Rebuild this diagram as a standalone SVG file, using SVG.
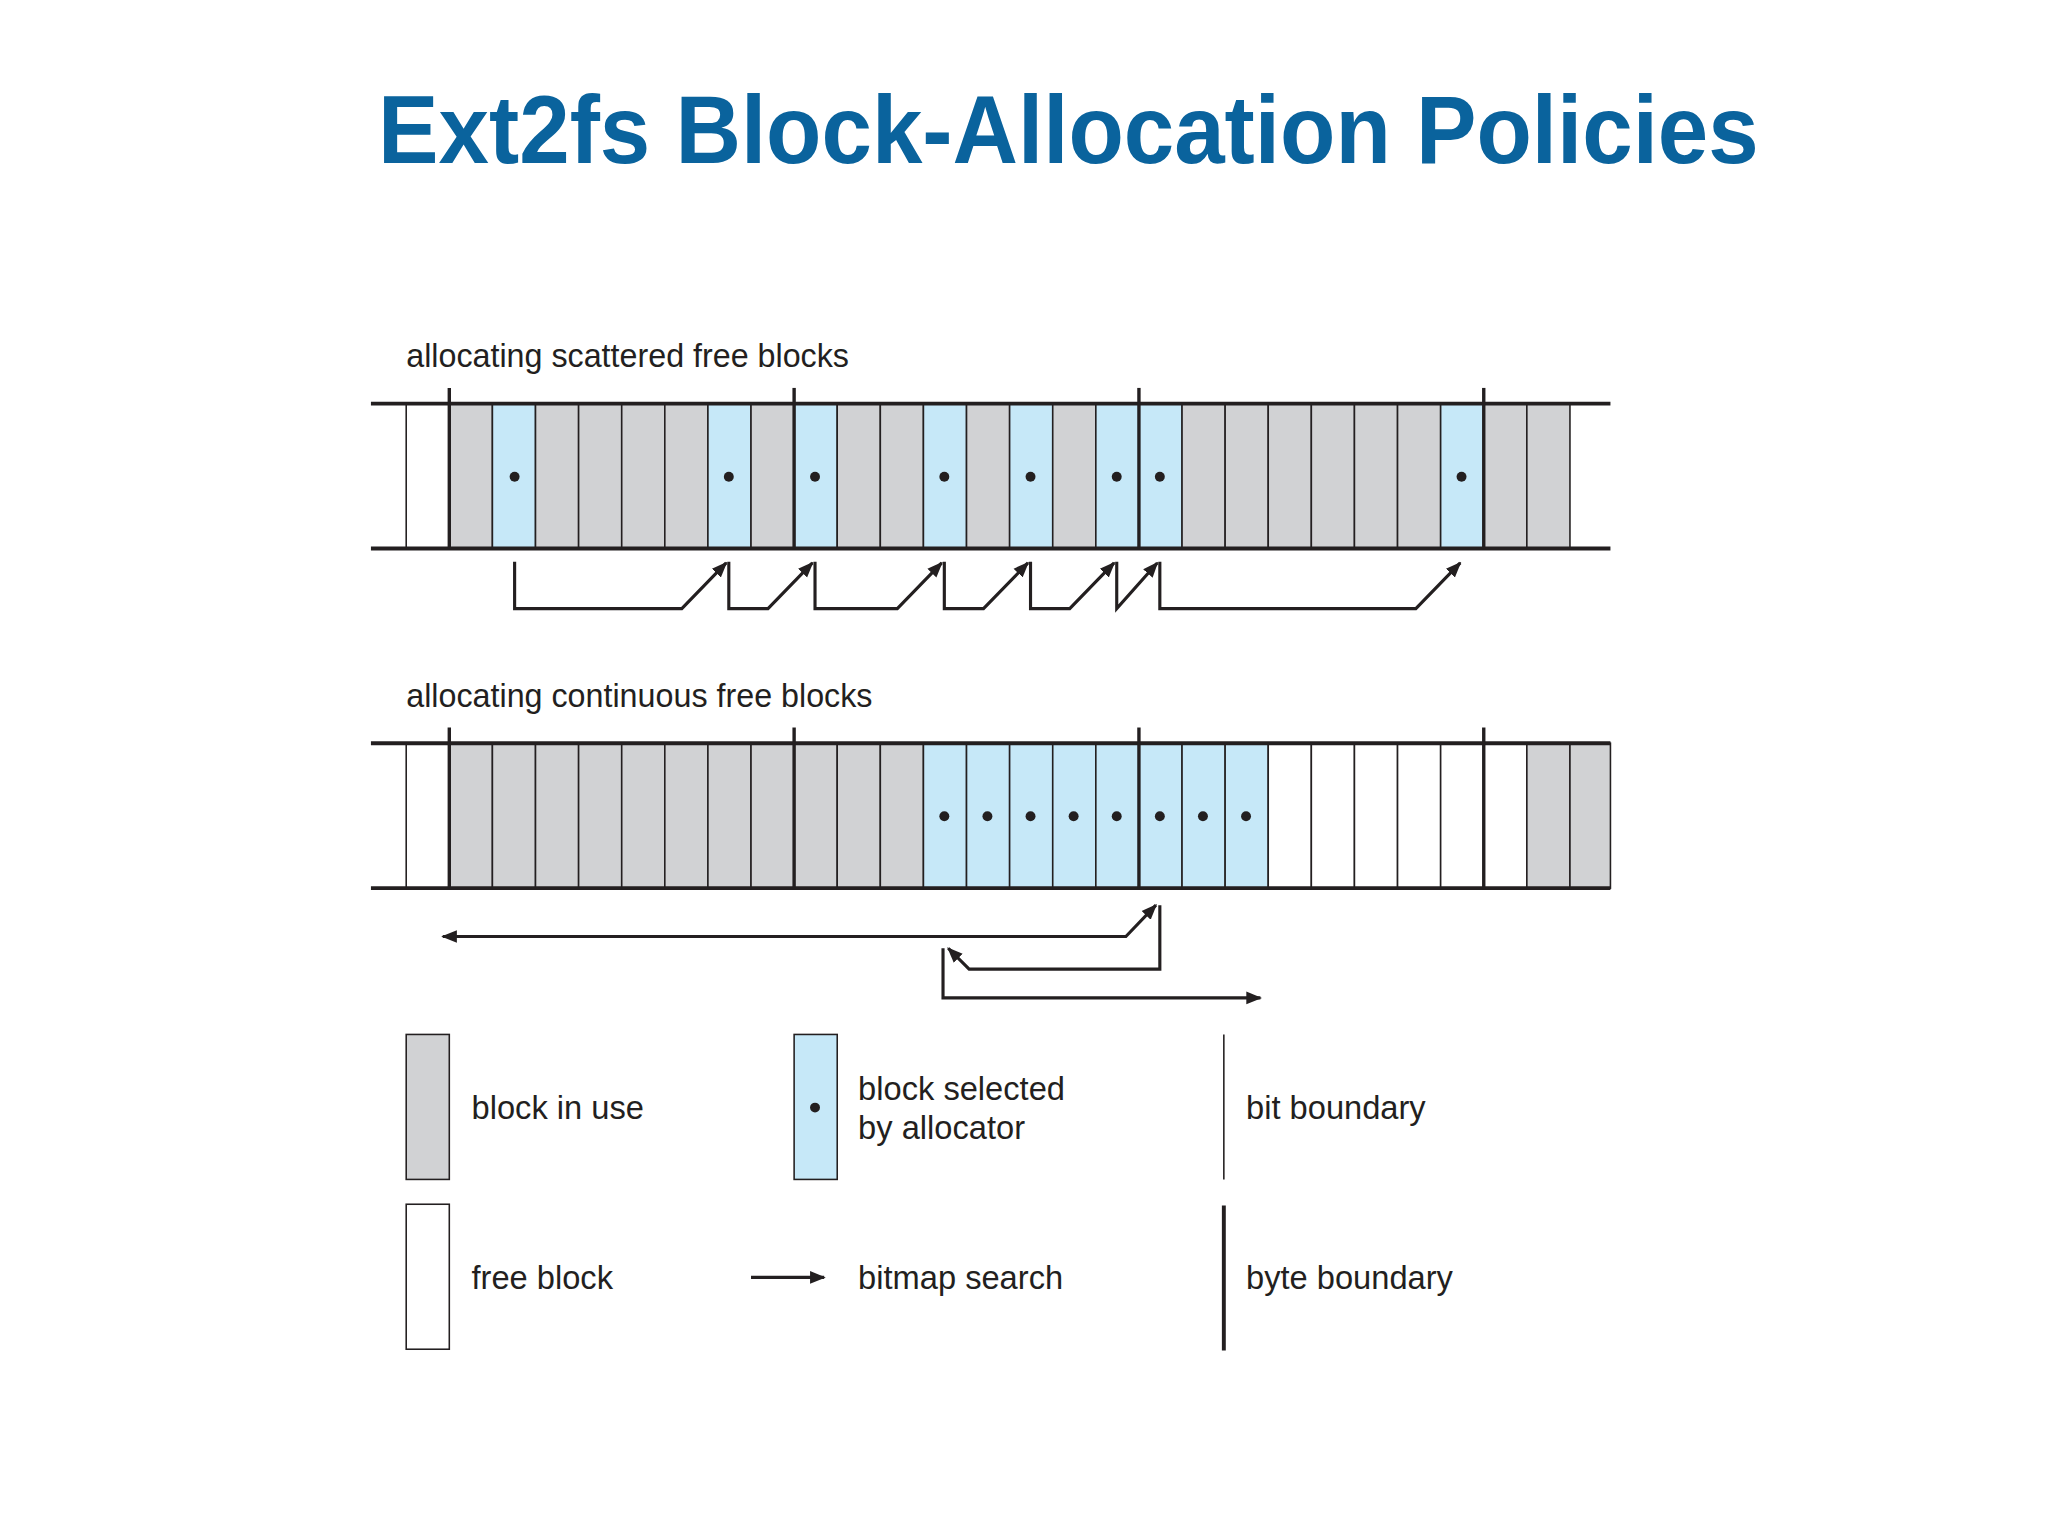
<svg xmlns="http://www.w3.org/2000/svg" width="2048" height="1536" viewBox="0 0 2048 1536">
<style>
.t{font-family:"Liberation Sans",Arial,sans-serif;font-size:25px;fill:#231f20}
.g{fill:#d1d2d4;stroke:#231f20;stroke-width:1.2}
.b{fill:#c6e8f8;stroke:#231f20;stroke-width:1.2}
.w{fill:#fff;stroke:#231f20;stroke-width:1.2}
.rail{stroke:#231f20;stroke-width:3}
.byte{stroke:#231f20;stroke-width:2.6}
.c{fill:none;stroke:#231f20;stroke-width:2.4}
</style>
<defs>
<marker id="ah" viewBox="0 0 10 10" refX="9" refY="5" markerWidth="5" markerHeight="5" orient="auto-start-reverse"><path d="M0,1 L10,5 L0,9 Z" fill="#231f20"/></marker>
</defs>
<rect width="2048" height="1536" fill="#fff"/>
<g transform="scale(1.30612)">
<text id="title" x="818" y="125" text-anchor="middle" textLength="1057" lengthAdjust="spacingAndGlyphs" style="font-family:'Liberation Sans',Arial,sans-serif;font-weight:bold;font-size:74px;fill:#0a639d">Ext2fs Block-Allocation Policies</text>

<text class="t" x="311" y="281" textLength="339" lengthAdjust="spacingAndGlyphs">allocating scattered free blocks</text>
<g id="strip1">
<rect class="w" x="311" y="309" width="33" height="111"/>
<rect class="g" x="344" y="309" width="33" height="111"/><rect class="b" x="377" y="309" width="33" height="111"/>
<rect class="g" x="410" y="309" width="33" height="111"/><rect class="g" x="443" y="309" width="33" height="111"/>
<rect class="g" x="476" y="309" width="33" height="111"/><rect class="g" x="509" y="309" width="33" height="111"/>
<rect class="b" x="542" y="309" width="33" height="111"/><rect class="g" x="575" y="309" width="33" height="111"/>
<rect class="b" x="608" y="309" width="33" height="111"/><rect class="g" x="641" y="309" width="33" height="111"/>
<rect class="g" x="674" y="309" width="33" height="111"/><rect class="b" x="707" y="309" width="33" height="111"/>
<rect class="g" x="740" y="309" width="33" height="111"/><rect class="b" x="773" y="309" width="33" height="111"/>
<rect class="g" x="806" y="309" width="33" height="111"/><rect class="b" x="839" y="309" width="33" height="111"/>
<rect class="b" x="872" y="309" width="33" height="111"/><rect class="g" x="905" y="309" width="33" height="111"/>
<rect class="g" x="938" y="309" width="33" height="111"/><rect class="g" x="971" y="309" width="33" height="111"/>
<rect class="g" x="1004" y="309" width="33" height="111"/><rect class="g" x="1037" y="309" width="33" height="111"/>
<rect class="g" x="1070" y="309" width="33" height="111"/><rect class="b" x="1103" y="309" width="33" height="111"/>
<rect class="g" x="1136" y="309" width="33" height="111"/><rect class="g" x="1169" y="309" width="33" height="111"/>
<g fill="#231f20"><circle cx="394" cy="365" r="3.8"/><circle cx="558" cy="365" r="3.8"/><circle cx="624" cy="365" r="3.8"/><circle cx="723" cy="365" r="3.8"/><circle cx="789" cy="365" r="3.8"/><circle cx="855" cy="365" r="3.8"/><circle cx="888" cy="365" r="3.8"/><circle cx="1119" cy="365" r="3.8"/></g>
<line class="rail" x1="284" y1="309" x2="1233" y2="309"/><line class="rail" x1="284" y1="420" x2="1233" y2="420"/>
<g class="byte"><line x1="344" y1="297" x2="344" y2="420"/><line x1="608" y1="297" x2="608" y2="420"/><line x1="872" y1="297" x2="872" y2="420"/><line x1="1136" y1="297" x2="1136" y2="420"/></g>
</g>
<g id="connectors1" class="c">
<path d="M394,430 V466 H522 L556,431" marker-end="url(#ah)"/>
<path d="M558,430 V466 H588 L622,431" marker-end="url(#ah)"/>
<path d="M624,430 V466 H687 L721,431" marker-end="url(#ah)"/>
<path d="M723,430 V466 H753 L787,431" marker-end="url(#ah)"/>
<path d="M789,430 V466 H819 L853,431" marker-end="url(#ah)"/>
<path d="M855,430 V466 L886,431" marker-end="url(#ah)"/>
<path d="M888,430 V466 H1084 L1118,431" marker-end="url(#ah)"/>
</g>

<text class="t" x="311" y="541" textLength="357" lengthAdjust="spacingAndGlyphs">allocating continuous free blocks</text>
<g id="strip2">
<rect class="w" x="311" y="569" width="33" height="111"/>
<rect class="g" x="344" y="569" width="33" height="111"/><rect class="g" x="377" y="569" width="33" height="111"/>
<rect class="g" x="410" y="569" width="33" height="111"/><rect class="g" x="443" y="569" width="33" height="111"/>
<rect class="g" x="476" y="569" width="33" height="111"/><rect class="g" x="509" y="569" width="33" height="111"/>
<rect class="g" x="542" y="569" width="33" height="111"/><rect class="g" x="575" y="569" width="33" height="111"/>
<rect class="g" x="608" y="569" width="33" height="111"/><rect class="g" x="641" y="569" width="33" height="111"/>
<rect class="g" x="674" y="569" width="33" height="111"/>
<rect class="b" x="707" y="569" width="33" height="111"/><rect class="b" x="740" y="569" width="33" height="111"/>
<rect class="b" x="773" y="569" width="33" height="111"/><rect class="b" x="806" y="569" width="33" height="111"/>
<rect class="b" x="839" y="569" width="33" height="111"/><rect class="b" x="872" y="569" width="33" height="111"/>
<rect class="b" x="905" y="569" width="33" height="111"/><rect class="b" x="938" y="569" width="33" height="111"/>
<rect class="w" x="971" y="569" width="33" height="111"/><rect class="w" x="1004" y="569" width="33" height="111"/>
<rect class="w" x="1037" y="569" width="33" height="111"/><rect class="w" x="1070" y="569" width="33" height="111"/>
<rect class="w" x="1103" y="569" width="33" height="111"/><rect class="w" x="1136" y="569" width="33" height="111"/>
<rect class="g" x="1169" y="569" width="33" height="111"/><rect class="g" x="1202" y="569" width="31" height="111"/>
<g fill="#231f20"><circle cx="723" cy="625" r="3.8"/><circle cx="756" cy="625" r="3.8"/><circle cx="789" cy="625" r="3.8"/><circle cx="822" cy="625" r="3.8"/><circle cx="855" cy="625" r="3.8"/><circle cx="888" cy="625" r="3.8"/><circle cx="921" cy="625" r="3.8"/><circle cx="954" cy="625" r="3.8"/></g>
<line class="rail" x1="284" y1="569" x2="1233" y2="569"/><line class="rail" x1="284" y1="680" x2="1233" y2="680"/>
<g class="byte"><line x1="344" y1="557" x2="344" y2="680"/><line x1="608" y1="557" x2="608" y2="680"/><line x1="872" y1="557" x2="872" y2="680"/><line x1="1136" y1="557" x2="1136" y2="680"/></g>
</g>
<g id="connectors2" class="c">
<path d="M339,717 H862 L885,693" marker-start="url(#ah)" marker-end="url(#ah)"/>
<path d="M888,693 V742 H742 L726,726" marker-end="url(#ah)"/>
<path d="M722,726 V764 H965" marker-end="url(#ah)"/>
</g>

<g id="legend-inuse"><rect class="g" x="311" y="792" width="33" height="111"/><text class="t" x="361" y="857">block in use</text></g>
<g id="legend-selected"><rect class="b" x="608" y="792" width="33" height="111"/><circle cx="624" cy="848" r="3.8" fill="#231f20"/><text class="t" x="657" y="842">block selected</text><text class="t" x="657" y="872">by allocator</text></g>
<g id="legend-bit"><line x1="937" y1="792" x2="937" y2="903" stroke="#231f20" stroke-width="1.2"/><text class="t" x="954" y="857">bit boundary</text></g>
<g id="legend-free"><rect class="w" x="311" y="922" width="33" height="111"/><text class="t" x="361" y="987">free block</text></g>
<g id="legend-search"><line class="c" x1="575" y1="978" x2="631" y2="978" marker-end="url(#ah)"/><text class="t" x="657" y="987">bitmap search</text></g>
<g id="legend-byte"><line x1="937" y1="923" x2="937" y2="1034" stroke="#231f20" stroke-width="3"/><text class="t" x="954" y="987">byte boundary</text></g>
</g>
</svg>
